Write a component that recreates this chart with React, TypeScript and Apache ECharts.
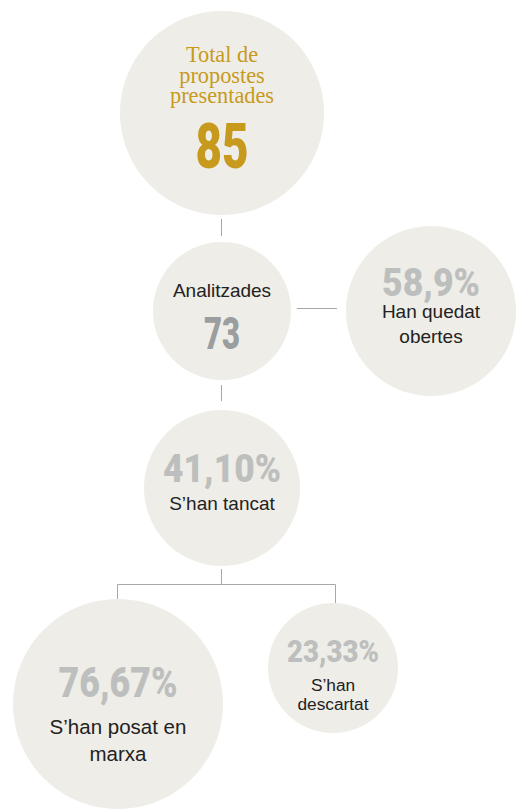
import React, { useEffect, useRef } from "react";
import * as echarts from "echarts";

// ---- data ----
const nodeValues: string[] = ["85", "73", "58,9%", "41,10%", "76,67%", "23,33%"];
const nodeLabels: string[] = [
  "Total de\npropostes\npresentades",
  "Analitzades",
  "Han quedat\nobertes",
  "S’han tancat",
  "S’han posat en\nmarxa",
  "S’han\ndescartat",
];
const links: [number, number][] = [
  [0, 1],
  [1, 2],
  [1, 3],
  [3, 4],
  [3, 5],
];

// ---- layout (positions, sizes, styles) ----
const W = 516;
const H = 809;
const GOLD = "#c79a1d";
const FILL = "#efede7";
const LINE = "#a5a8a8";
const DARKGRAY = "#9a9e9f";
const LIGHTGRAY = "#bdbfbe";
const TEXT = "#222222";
const NUMFONT = "Roboto";
const NUMWEIGHT = "900";
const SANS = "'Liberation Sans', Arial, sans-serif";
const SERIF = "'Liberation Serif', 'Times New Roman', serif";

type Lay = {
  cx: number; cy: number; r: number;
  vy: number; vSize: number; vWidth: number; vColor: string;
  ly: number; lSize: number; lh: number; lFont: string; lColor: string; lScale: number;
};
const layout: Lay[] = [
  { cx: 222, cy: 113, r: 102, vy: 146.5, vSize: 63, vWidth: 53, vColor: GOLD, ly: 74.5, lSize: 24, lh: 20.5, lFont: SERIF, lColor: GOLD, lScale: 0.93 },
  { cx: 222, cy: 311, r: 69, vy: 334, vSize: 44, vWidth: 36, vColor: DARKGRAY, ly: 290.5, lSize: 19, lh: 22, lFont: SANS, lColor: TEXT, lScale: 1 },
  { cx: 431, cy: 311, r: 85, vy: 283, vSize: 38, vWidth: 98, vColor: LIGHTGRAY, ly: 324, lSize: 19, lh: 25.5, lFont: SANS, lColor: TEXT, lScale: 1 },
  { cx: 222, cy: 488, r: 78, vy: 468.5, vSize: 39, vWidth: 118, vColor: LIGHTGRAY, ly: 503, lSize: 19, lh: 22, lFont: SANS, lColor: TEXT, lScale: 1 },
  { cx: 118, cy: 704, r: 105, vy: 682.5, vSize: 42, vWidth: 119, vColor: LIGHTGRAY, ly: 739.5, lSize: 20.5, lh: 27, lFont: SANS, lColor: TEXT, lScale: 1 },
  { cx: 333, cy: 668, r: 65, vy: 650.5, vSize: 32, vWidth: 92, vColor: LIGHTGRAY, ly: 694, lSize: 17.3, lh: 19, lFont: SANS, lColor: TEXT, lScale: 1 },
];
// connector segments per link (elbow points)
const connectorPaths: number[][][] = [
  [[221.5, 219], [221.5, 236]],
  [[297, 308.5], [337, 308.5]],
  [[221.5, 385], [221.5, 401]],
  [[221.5, 569], [221.5, 584.5], [117.5, 584.5], [117.5, 603]],
  [[221.5, 584.5], [335.5, 584.5], [335.5, 603]],
];

function measure(text: string, font: string): number {
  const c = document.createElement("canvas");
  const ctx = c.getContext("2d");
  if (!ctx) return 1;
  ctx.font = font;
  return ctx.measureText(text).width || 1;
}

export default function App() {
  const ref = useRef<HTMLDivElement>(null);
  useEffect(() => {
    if (!ref.current) return;
    const chart = echarts.init(ref.current, undefined, { renderer: "svg", width: W, height: H });
    const elements: any[] = [];
    links.forEach((_, i) => {
      elements.push({
        type: "polyline",
        shape: { points: connectorPaths[i] },
        style: { stroke: LINE, lineWidth: 1, fill: null },
        z: 1,
      });
    });
    layout.forEach((l, i) => {
      elements.push({
        type: "circle",
        shape: { cx: l.cx, cy: l.cy, r: l.r },
        style: { fill: FILL },
        z: 2,
      });
      const v = nodeValues[i];
      const font = `${NUMWEIGHT} ${l.vSize}px ${NUMFONT}`;
      const mw = measure(v, font);
      elements.push({
        type: "text",
        x: l.cx,
        y: l.vy,
        scaleX: l.vWidth / mw,
        z: 3,
        style: {
          text: v,
          fill: l.vColor,
          font,
          textAlign: "center",
          textVerticalAlign: "middle",
        },
      });
      elements.push({
        type: "text",
        x: l.cx,
        y: l.ly,
        scaleX: l.lScale,
        z: 3,
        style: {
          text: nodeLabels[i],
          fill: l.lColor,
          font: `${l.lSize}px ${l.lFont}`,
          lineHeight: l.lh,
          textAlign: "center",
          textVerticalAlign: "middle",
        },
      });
    });
    chart.setOption({
      animation: false,
      backgroundColor: "#ffffff",
      graphic: { elements },
    });
    return () => chart.dispose();
  }, []);
  return (
    <div
      ref={ref}
      style={{ position: "absolute", left: 0, top: 0, width: W, height: H }}
    />
  );
}
